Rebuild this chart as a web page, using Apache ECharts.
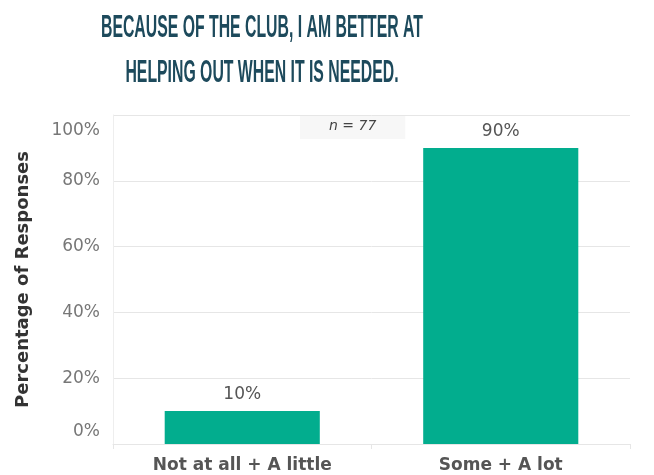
<!DOCTYPE html>
<html lang="en">
<head>
<meta charset="UTF-8">
<title>Helping out</title>
<script src="https://cdn.jsdelivr.net/npm/echarts@6/dist/echarts.min.js"></script>
<style>
html, body { margin: 0; padding: 0; background: #fff; }
#chart { width: 654px; height: 475px; }
</style>
</head>
<body>
<div id="chart"></div>
<script>
const categories = ['Not at all + A little', 'Some + A lot'];
const values = [10, 90];
const yTicks = [0, 20, 40, 60, 80, 100];
const titleLines = ['BECAUSE OF THE CLUB, I AM BETTER AT', 'HELPING OUT WHEN IT IS NEEDED.'];

// the title font is a tall condensed face, so squeeze a normal bold font to fit
const titleFont = 'bold 32px "Liberation Sans"';
const ctx = document.createElement('canvas').getContext('2d');
ctx.font = titleFont;
const squeeze = 322 / ctx.measureText(titleLines[0]).width;

const chart = echarts.init(document.getElementById('chart'));
const option = {
  animation: false,
  graphic: [
    {
      type: 'text', x: 262, y: 28, scaleX: squeeze,
      style: { text: titleLines[0], font: titleFont, fill: '#1d4a5c', textAlign: 'center', textVerticalAlign: 'middle' }
    },
    {
      type: 'text', x: 262, y: 73, scaleX: squeeze,
      style: { text: titleLines[1], font: titleFont, fill: '#1d4a5c', textAlign: 'center', textVerticalAlign: 'middle' }
    },
    {
      type: 'text',
      left: 300,
      top: 115,
      style: {
        text: 'n = 77',
        fontFamily: 'DejaVu Sans',
        fontStyle: 'italic',
        fontSize: 14,
        fill: '#444',
        backgroundColor: '#f7f7f7',
        padding: [4, 29, 6, 29]
      }
    }
  ],
  grid: { left: 113, right: 24, top: 115, bottom: 31 },
  xAxis: {
    type: 'category',
    data: categories,
    axisLine: { lineStyle: { color: '#e6e6e6' } },
    axisTick: { show: true, length: 5, lineStyle: { color: '#e6e6e6' } },
    axisLabel: {
      margin: 13,
      fontFamily: 'DejaVu Sans',
      fontWeight: 'bold',
      fontSize: 17,
      color: '#555'
    }
  },
  yAxis: {
    type: 'value',
    min: yTicks[0],
    max: yTicks[yTicks.length - 1],
    interval: 20,
    name: 'Percentage of Responses',
    nameLocation: 'middle',
    nameGap: 81,
    nameTextStyle: {
      fontFamily: 'DejaVu Sans',
      fontWeight: 'bold',
      fontSize: 18,
      color: '#333'
    },
    axisLine: { show: true, lineStyle: { color: '#eeeeee' } },
    axisTick: { show: false },
    splitLine: { lineStyle: { color: '#e6e6e6' } },
    axisLabel: {
      margin: 13,
      formatter: function (v) {
        if (v === yTicks[yTicks.length - 1]) return '{top|' + v + '%}';
        if (v === yTicks[0]) return '{bot|' + v + '%}';
        return v + '%';
      },
      fontFamily: 'DejaVu Sans',
      fontSize: 17,
      color: '#777',
      rich: {
        top: { fontFamily: 'DejaVu Sans', fontSize: 17, color: '#777', padding: [32, 0, 0, 0] },
        bot: { fontFamily: 'DejaVu Sans', fontSize: 17, color: '#777', padding: [0, 0, 24, 0] }
      }
    }
  },
  series: [
    {
      type: 'bar',
      data: values,
      barWidth: '60%',
      itemStyle: { color: '#02ad8e' },
      label: {
        show: true,
        position: 'top',
        distance: 8,
        formatter: '{c}%',
        fontFamily: 'DejaVu Sans',
        fontSize: 17,
        color: '#555'
      }
    }
  ]
};
chart.setOption(option);
</script>
</body>
</html>
